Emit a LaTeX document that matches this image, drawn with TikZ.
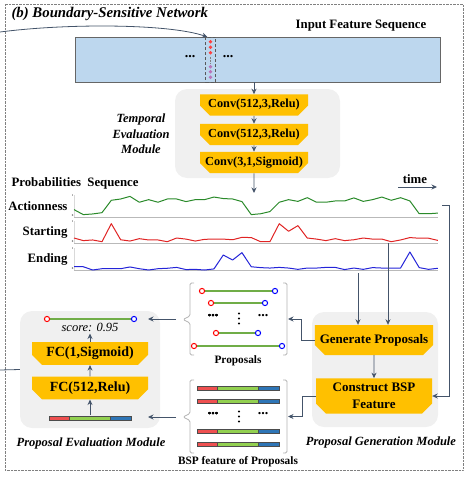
\documentclass[tikz,border=0pt]{standalone}
\usepackage{fontspec}
\setmainfont{Liberation Serif}
\usetikzlibrary{shapes.misc,arrows.meta}

\definecolor{boxorange}{HTML}{FFC000}
\definecolor{modgray}{HTML}{F0F0F0}
\definecolor{arrowgray}{HTML}{44546A}
\definecolor{featblue}{HTML}{BDD7EE}
\definecolor{actgreen}{HTML}{2A8A2A}
\definecolor{stred}{HTML}{E02424}
\definecolor{enblue}{HTML}{2424D8}
\definecolor{propgreen}{HTML}{70AD47}
\definecolor{barred}{HTML}{EE5050}
\definecolor{bargreen}{HTML}{92D050}
\definecolor{barblue}{HTML}{2E75B6}

% one BSP feature bar, left end at (#1,#2)
\newcommand{\bspbar}[2]{%
  \draw[gray!60!black, line width=0.3pt, fill=barred] (#1,#2-2.2) rectangle ++(20,4.4);
  \draw[gray!60!black, line width=0.3pt, fill=bargreen] (#1+20,#2-2.2) rectangle ++(41,4.4);
  \draw[gray!60!black, line width=0.3pt, fill=barblue] (#1+61,#2-2.2) rectangle ++(21,4.4);
}
% one proposal: start x, end x, y
\newcommand{\propline}[3]{%
  \draw[propgreen, line width=2.2pt] (#1,#3) -- (#2,#3);
  \draw[red, fill=white, line width=1pt] (#1,#3) circle (2.6pt);
  \draw[blue, fill=white, line width=1pt] (#2,#3) circle (2.6pt);
}
% vertical dots at (#1,#2)
\newcommand{\vdotsat}[2]{%
  \foreach \d in {-5,0,5}
    \fill (#1,#2+\d) circle (1.1pt);
}

\begin{document}
\begin{tikzpicture}[x=1pt,y=-1pt,
    lbl/.style={font=\bfseries\fontsize{12.8}{15}\selectfont},
    modlbl/.style={font=\bfseries\itshape\fontsize{12.5}{15.5}\selectfont, align=center},
    layer/.style={chamfered rectangle, chamfered rectangle corners={south west,south east},
      chamfered rectangle xsep=5pt, chamfered rectangle ysep=5pt, fill=boxorange,
      inner sep=0pt, font=\bfseries\fontsize{13}{16.5}\selectfont, align=center},
    module/.style={fill=modgray, rounded corners=12pt, inner sep=0pt},
    arr/.style={draw=arrowgray, line width=0.8pt, -{Stealth[length=5.5pt,width=5pt]}},
    bracket/.style={draw=gray!60, line width=0.8pt, rounded corners=1.5pt},
    dots/.style={font=\bfseries\fontsize{14}{14}\selectfont, inner sep=0pt}]

    \useasboundingbox (0,0) rectangle (471,477);
    \draw[gray, densely dotted] (5,4) rectangle (463,470);
    \node[font=\bfseries\itshape\fontsize{14.8}{17}\selectfont, anchor=west] (title) at (8,14) {(b) Boundary-Sensitive Network};

    % input feature sequence
    \node[lbl] (inlbl) at (361,26) {Input Feature Sequence};
    \node[fill=featblue, draw=gray!80!black, line width=0.8pt, minimum width=365pt, minimum height=45pt, inner sep=0pt] (input) at (257.5,59.5) {};
    \node[dots] (indl) at (190,57) {...};
    \node[dots] (indr) at (228,57) {...};
    \draw[gray!70!black, densely dashed, line width=0.5pt] (205.5,37) rectangle (215.5,82);
    \foreach \y in {41.7,47.3,52.7}
        \fill[red!75] (210.5,\y) circle (1.9pt);
    \foreach \y in {66.7,71.7,77.3}
        \fill[violet!55] (210.5,\y) circle (1.9pt);
    \draw[gray, densely dotted] (210.5,57) -- (210.5,63);
    \coordinate (src) at (0,32);
    \coordinate (col) at (207.5,37);
    \draw[arr] (src) .. controls (70,23) and (170,24) .. (col);

    % temporal evaluation module
    \node[module, minimum width=165pt, minimum height=89pt] (tem) at (257.5,133.5) {};
    \node[layer, font=\bfseries\fontsize{12.3}{15}\selectfont, minimum width=108pt, minimum height=20pt] (conv1) at (254,105) {Conv(512,3,Relu)};
    \node[layer, font=\bfseries\fontsize{12.3}{15}\selectfont, minimum width=108pt, minimum height=19pt] (conv2) at (254,134.5) {Conv(512,3,Relu)};
    \node[layer, font=\bfseries\fontsize{12.3}{15}\selectfont, minimum width=108pt, minimum height=19pt] (conv3) at (254,162.5) {Conv(3,1,Sigmoid)};
    \node[modlbl] (temlbl) at (141,134) {Temporal\\Evaluation\\Module};
    \draw[arr] (conv1.north |- input.south) -- (conv1.north);
    \draw[arr] (conv1) -- (conv2);
    \draw[arr] (conv2) -- (conv3);
    \coordinate (probtop) at (254,193);
    \draw[arr] (conv3) -- (probtop);

    % probabilities sequence
    \node[lbl, anchor=west] (problbl) at (8,183) {Probabilities\ \ Sequence};
    \node[lbl] (timelbl) at (415,179) {time};
    \coordinate (t0) at (398,187);
    \coordinate (t1) at (437,187);
    \draw[arr] (t0) -- (t1);
    \foreach \name/\base in {Actionness/217,Starting/243,Ending/270} {
        \draw[gray!55, line width=0.7pt] (74,\base) -- (438,\base);
        \draw[gray!30, line width=0.4pt] (74,\base) -- (74,\base-22);
        \node[font=\fontsize{3}{3}\selectfont, anchor=east, inner sep=0.5pt] (one\name) at (74,\base-21) {1};
        \node[font=\fontsize{3}{3}\selectfont, anchor=east, inner sep=0.5pt] (zero\name) at (74,\base-1) {0};
        \node[lbl, anchor=east] (lbl\name) at (71,\base-10.5) {\name};
    }
    \begin{scope}[shift={(74,217)}, x=9.33pt, y=21.7pt]
        \draw[actgreen, line width=1pt, line join=round] (0,0.34) \foreach \v [count=\i] in
            {0.11,0.14,0.2,0.77,0.83,0.95,0.68,0.8,0.68,0.83,0.83,0.71,0.8,0.8,0.92,0.85,0.83,0.71,0.11,
             0.15,0.25,0.68,0.8,0.72,0.89,0.68,0.68,0.74,0.74,0.88,0.72,0.8,0.92,0.77,0.89,0.74,0.15,0.15,0.18}
            { -- (\i,\v) };
    \end{scope}
    \begin{scope}[shift={(74,243)}, x=9.33pt, y=21.7pt]
        \draw[stred, line width=1pt, line join=round] (0,0.23) \foreach \v [count=\i] in
            {0.11,0.14,0.06,0.89,0.15,0.09,0.2,0.14,0.14,0.06,0.23,0.18,0.09,0.17,0.18,0.18,0.15,0.26,0.25,
             0.06,0.06,0.89,0.54,0.8,0.23,0.18,0.11,0.2,0.11,0.15,0.23,0.18,0.18,0.06,0.14,0.25,0.22,0.22,0.12}
            { -- (\i,\v) };
    \end{scope}
    \begin{scope}[shift={(74,270)}, x=9.33pt, y=21.7pt]
        \draw[enblue, line width=1pt, line join=round] (0,0.15) \foreach \v [count=\i] in
            {0.15,0,0.06,0.06,0.06,0.14,0.06,0,0.06,0.08,0.12,0.02,0.03,0,0.05,0.69,0.46,0.8,0.15,
             0.11,0.09,0.12,0.09,0.03,0.09,0.09,0.12,0.12,0.02,0.09,0.03,0.11,0.09,0.09,0.09,0.83,0.11,0.03,0.08}
            { -- (\i,\v) };
    \end{scope}

    % proposal generation module
    \node[module, minimum width=126pt, minimum height=115pt] (pgm) at (375,369.5) {};
    \node[layer, minimum width=116pt, minimum height=30pt] (gen) at (374,340) {Generate Proposals};
    \node[layer, minimum width=116pt, minimum height=32pt] (bsp) at (374,396) {Construct BSP\\Feature};
    \node[modlbl] (pgmlbl) at (381,442) {Proposal Generation Module};
    \draw[arr] (gen) -- (bsp);
    \coordinate (actend) at (442,205);
    \coordinate (actturn) at (449,205);
    \coordinate (stend) at (388,243);
    \coordinate (enend) at (358,273);
    \draw[arr] (actend) -- (actturn) |- (bsp.east);
    \draw[arr] (stend) -- (stend |- gen.north);
    \draw[arr] (enend) -- (enend |- gen.north);

    % proposals
    \coordinate (propin) at (288,319);
    \coordinate (featin) at (288,416.5);
    \draw[arr] (gen.west) -- ++(-13,0) |- (propin);
    \draw[arr] (bsp.west) -- ++(-13,0) |- (featin);
    \draw[bracket] (194,283) -- (190,283) -- (190,316) -- (183,319.5) -- (190,323) -- (190,355) -- (194,355);
    \draw[bracket] (283,283) -- (287,283) -- (287,355) -- (283,355);
    \foreach \a/\b/\y in {202/275/291,211/265/303,216/258/333,194/282/346}
        \propline{\a}{\b}{\y}
    \node[dots] (pdl) at (213,316) {...};
    \node[dots] (pdr) at (263,316) {...};
    \vdotsat{239}{318.5}
    \node[lbl, font=\bfseries\fontsize{11.3}{13}\selectfont] (proplbl) at (238,361) {Proposals};

    % BSP features of proposals
    \draw[bracket] (194,380) -- (190,380) -- (190,413.5) -- (183,417) -- (190,420.5) -- (190,453) -- (194,453);
    \draw[bracket] (283,380) -- (287,380) -- (287,453) -- (283,453);
    \foreach \y in {388,401,431,444}
        \bspbar{197}{\y}
    \node[dots] (fdl) at (213,414) {...};
    \node[dots] (fdr) at (263,414) {...};
    \vdotsat{239}{416.5}
    \node[lbl, font=\bfseries\fontsize{11.3}{13}\selectfont] (featlbl) at (238,462) {BSP feature of Proposals};

    % proposal evaluation module
    \node[module, minimum width=140pt, minimum height=117pt] (pem) at (90,369.5) {};
    \propline{47}{134}{319}
    \node[font=\itshape\fontsize{12.5}{14}\selectfont] (score) at (90,327.5) {score: 0.95};
    \node[layer, font=\bfseries\fontsize{14}{16}\selectfont, minimum width=116pt, minimum height=18pt] (fc1) at (90,353.5) {FC(1,Sigmoid)};
    \node[layer, font=\bfseries\fontsize{14}{16}\selectfont, minimum width=116pt, minimum height=18pt] (fc2) at (90,388) {FC(512,Relu)};
    \bspbar{49}{418}
    \node[modlbl] (pemlbl) at (91,443) {Proposal Evaluation Module};
    \coordinate (barout) at (90,415);
    \coordinate (scorein) at (90,333.5);
    \draw[arr] (barout) -- (fc2);
    \draw[arr] (fc2) -- (fc1);
    \draw[arr] (fc1) -- (scorein);
    \coordinate (proptick) at (176,319);
    \coordinate (pemtop) at (148,319);
    \coordinate (feattick) at (176,417);
    \coordinate (pembar) at (148,417);
    \draw[arr] (proptick) -- (pemtop);
    \draw[arr] (feattick) -- (pembar);
    \coordinate (outl) at (0,370);
    \draw[arrowgray, line width=0.8pt] (outl) -- (pem.west);
\end{tikzpicture}
\end{document}
